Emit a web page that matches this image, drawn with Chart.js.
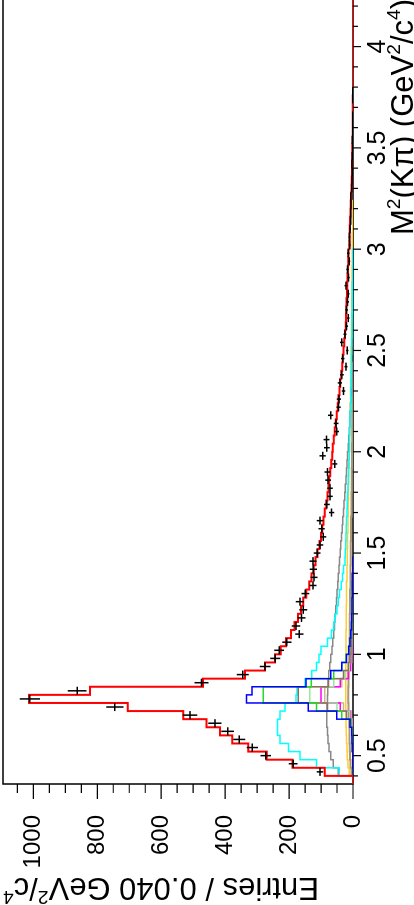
<!DOCTYPE html>
<html>
<head>
<meta charset="utf-8">
<script src="https://cdn.jsdelivr.net/npm/chart.js@4.4.0/dist/chart.umd.min.js"></script>
<style>
  html, body { margin: 0; padding: 0; background: #fff; overflow: hidden; }
  /* chart is drawn landscape, then turned a quarter left to fit the portrait page */
  #wrap { position: absolute; left: 0; top: 0; width: 905px; height: 414px;
          transform-origin: 0 0; transform: translate(0px, 905px) rotate(-90deg); }
</style>
</head>
<body>
<div id="wrap"><canvas id="chart" width="905" height="414"></canvas></div>
<script>
// binning: 0.040 GeV^2/c^4 bins starting at 0.36
const M2_START = 0.36;
const BIN_WIDTH = 0.04;
const X_MIN = 0.36;
const X_MAX = 4.23;
const Y_MAX = 1095;

const xTickLabels = ['0.5', '1', '1.5', '2', '2.5', '3', '3.5', '4'];
const yTickLabels = ['0', '200', '400', '600', '800', '1000'];

// measured entries per bin (first bin 0.36-0.40)
const dataCounts = [
  0, 103, 187, 273, 315, 356, 392, 432, 510, 745,
  1011, 863, 474, 345, 275, 243, 231, 207, 168, 178,
  161, 156, 166, 149, 125, 122, 124, 125, 112, 103,
  93, 98, 103, 67, 82, 72, 72, 78, 80, 57,
  95, 82, 83, 51, 53, 70, 45, 44, 30, 41,
  35, 22, 32, 18, 35, 25, 20, 15, 20, 17,
  15, 22, 14, 17, 12, 15, 10, 11, 9, 7,
  7, 6, 7, 4, 3, 2, 3, 2, 1, 2,
  1, 1, 1, 0, 1, 1
];

// total fit (red)
const fitTotal = [
  0, 88, 189, 270, 328, 378, 416, 458, 531, 705,
  1014, 823, 469, 338, 275, 244, 226, 210, 194, 183,
  172, 163, 156, 146, 137, 130, 123, 117, 111, 105,
  100, 96, 92, 88, 84, 80, 77, 74, 71, 68,
  65, 63, 60, 57, 54, 51, 48, 45, 42, 40,
  37, 34, 32, 30, 27, 25, 23, 22, 21, 20,
  19, 18, 17, 16, 15, 14, 12, 11, 10, 9,
  8, 7, 6, 5, 4, 3, 3, 2, 2, 1,
  1, 1, 1, 0.5, 0.5, 0.3, 0, 0, 0, 0,
  0, 0, 0, 0, 0, 0, 0
];

// fit components
const compCyan = [
  0, 43, 114, 166, 202, 228, 236, 236, 228, 213,
  178, 175, 150, 129, 114, 106, 100, 80, 67, 60,
  56, 50, 46, 42, 37, 33, 30, 25, 24, 23,
  22, 21, 20, 19, 18, 17, 16, 15, 14, 13,
  12, 11, 11, 10, 9, 9, 8, 7, 7, 6,
  6, 5, 5, 4, 4, 3, 3, 3, 2, 2,
  2, 2, 1, 1, 1, 1
];
const compGray = [
  0, 46, 62, 70, 75, 78, 80, 82, 82, 81,
  80, 79, 78, 76, 73, 70, 66, 63, 60, 58,
  56, 54, 52, 50, 48, 46, 44, 42, 40, 38,
  36, 34, 32, 30, 28, 26, 24, 22, 20, 19,
  17, 15, 13, 12, 10, 9, 7, 6, 4, 3,
  2, 1
];
const compBlue = [0, 0, 1, 1, 2, 3, 4, 9, 51, 140, 333, 316, 147, 70, 35, 20, 13, 9, 7, 5, 4, 3, 3, 2, 2, 2, 1, 1];
const compGreen = [0, 0, 1, 1, 2, 2, 4, 8, 35, 114, 281, 281, 131, 60, 35, 22, 14, 10, 7, 5, 4, 3, 3, 2, 2, 1, 1];
const compBrown = [0, 0, 0, 1, 1, 2, 3, 6, 20, 80, 171, 171, 77, 30, 15, 9, 6, 4, 3, 2, 2, 1, 1];
const compPaleGreen = [0, 0, 0, 1, 1, 1, 2, 4, 10, 50, 135, 135, 60, 25, 12, 7, 5, 3, 2, 2, 1, 1];
const compMagenta = [0, 0, 0, 0, 1, 1, 2, 3, 8, 40, 100, 100, 40, 15, 8, 5, 3, 2, 2, 1, 1];
const compTan = [0, 0, 0, 0, 1, 1, 1, 2, 6, 30, 88, 88, 35, 14, 7, 4, 3, 2, 1, 1];
const compOrange = [
  0, 12, 16, 18, 19, 20, 21, 22, 22, 23,
  23, 23, 23, 23, 23, 22, 22, 22, 22, 21,
  21, 21, 20, 20, 20, 19, 19, 18, 18, 17,
  17, 16, 16, 15, 15, 14, 14, 13, 13, 12,
  12, 11, 11, 10, 10, 9, 9, 8, 8, 7,
  7, 6, 6, 6, 5, 5, 5, 4, 4, 4,
  3, 3, 3, 3, 2, 2, 2, 2, 1, 1,
  1, 1
];
const compKhaki = [
  0, 5, 8, 9, 10, 11, 11, 12, 13, 14,
  15, 15, 14, 13, 12, 12, 11, 11, 10, 10,
  10, 9, 9, 9, 8, 8, 8, 7, 7, 7,
  6, 6, 6, 5, 5, 5, 4, 4, 4, 3,
  3, 3, 2, 2, 2, 2, 1, 1, 1, 1
];

// outline of a histogram: step line through the lower bin edges
function histPoints(vals) {
  var pts = [{x: M2_START, y: 0}];
  vals.forEach(function(v, i) {
    pts.push({x: M2_START + i * BIN_WIDTH, y: v});
  });
  pts.push({x: M2_START + vals.length * BIN_WIDTH, y: 0});
  return pts;
}

// data crosses: bin width horizontally, sqrt(N) vertically
function crossPoints(vals) {
  var pts = [];
  vals.forEach(function(c, i) {
    if (c <= 0) return;
    var lo = M2_START + i * BIN_WIDTH;
    var hi = lo + BIN_WIDTH;
    var mid = lo + BIN_WIDTH / 2;
    var e = Math.sqrt(c);
    pts.push({x: lo, y: c}, {x: hi, y: c}, {x: mid, y: null});
    pts.push({x: mid, y: c - e}, {x: mid, y: c + e}, {x: mid, y: null});
  });
  return pts;
}

function histSet(label, vals, color, width) {
  return {
    label: label,
    data: histPoints(vals),
    borderColor: color,
    borderWidth: width,
    stepped: 'before',
    pointRadius: 0,
    fill: false
  };
}

// text with superscripts, laid out left to right and ending at x = 0
function drawRich(ctx, parts, size) {
  var total = 0;
  parts.forEach(function(p) {
    ctx.font = (p[1] ? size * 0.62 : size) + 'px "Liberation Sans"';
    p.w = ctx.measureText(p[0]).width;
    total += p.w;
  });
  var x = -total;
  parts.forEach(function(p) {
    ctx.font = (p[1] ? size * 0.62 : size) + 'px "Liberation Sans"';
    ctx.fillText(p[0], x, p[1] ? -size * 0.42 : 0);
    x += p.w;
  });
}

const frameAndTitles = {
  id: 'frameAndTitles',
  beforeDatasetsDraw(chart) {
    var ctx = chart.ctx, a = chart.chartArea;
    var xs = chart.scales.x, ys = chart.scales.y;
    ctx.save();
    ctx.strokeStyle = '#000';
    ctx.lineWidth = 1.5;
    ctx.beginPath();
    ctx.moveTo(a.right + 2, a.top);
    ctx.lineTo(a.left, a.top);
    ctx.lineTo(a.left, a.bottom);
    ctx.lineTo(a.right + 2, a.bottom);
    ctx.stroke();

    ctx.lineWidth = 1.2;
    ctx.beginPath();
    for (var k = 4; k <= 42; k++) {
      var px = xs.getPixelForValue(k / 10);
      var len = (k % 5 === 0) ? 8 : 5;
      ctx.moveTo(px, a.bottom);
      ctx.lineTo(px, a.bottom + len);
    }
    for (var j = 0; j <= 21; j++) {
      var py = ys.getPixelForValue(j * 50);
      var ylen = (j % 4 === 0) ? 15 : 9;
      ctx.moveTo(a.left - ylen, py);
      ctx.lineTo(a.left, py);
    }
    ctx.stroke();
    ctx.restore();
  },
  afterDraw(chart) {
    var ctx = chart.ctx;
    ctx.save();
    ctx.fillStyle = '#000';
    ctx.textBaseline = 'alphabetic';
    ctx.textAlign = 'left';

    // x title, right aligned under the axis
    ctx.save();
    ctx.translate(906, 413);
    drawRich(ctx, [['M', 0], ['2', 1], ['(K\u03c0) (GeV', 0], ['2', 1], ['/c', 0], ['4', 1], [')', 0]], 31);
    ctx.restore();

    // y title, turned to read upwards, right aligned at the top
    ctx.save();
    ctx.translate(27, 3);
    ctx.rotate(-Math.PI / 2);
    drawRich(ctx, [['Entries / 0.040 GeV', 0], ['2', 1], ['/c', 0], ['4', 1]], 31);
    ctx.restore();

    ctx.restore();
  }
};

new Chart(document.getElementById('chart'), {
  type: 'line',
  data: {
    datasets: [
      {label: 'Data', data: crossPoints(dataCounts), borderColor: '#000', borderWidth: 1.5,
       pointRadius: 0, spanGaps: false, fill: false},
      histSet('Fit', fitTotal, '#ff0000', 2),
      histSet('c1', compBlue, '#0000ff', 1.5),
      histSet('c2', compGreen, '#22dd22', 1.5),
      histSet('c3', compBrown, '#8c6e5a', 1.5),
      histSet('c4', compPaleGreen, '#99e699', 1.5),
      histSet('c5', compMagenta, '#ff00ff', 1.5),
      histSet('c6', compTan, '#d2b48c', 1.5),
      histSet('c7', compCyan, '#00ffff', 1.5),
      histSet('c8', compGray, '#888888', 1.5),
      histSet('c9', compOrange, '#ffcc33', 1.5),
      histSet('c10', compKhaki, '#a89878', 2)
    ]
  },
  options: {
    responsive: false,
    animation: false,
    devicePixelRatio: 1,
    layout: {padding: {top: 3, right: 0, left: 0, bottom: 0}},
    elements: {line: {tension: 0}, point: {radius: 0}},
    plugins: {legend: {display: false}, tooltip: {enabled: false}},
    scales: {
      x: {
        type: 'linear', min: X_MIN, max: X_MAX, bounds: 'data',
        grid: {display: false}, border: {display: false},
        afterBuildTicks: function(s) { s.ticks = xTickLabels.map(function(t) { return {value: parseFloat(t)}; }); },
        afterFit: function(s) { s.height = 61; s.paddingLeft = 0; s.paddingRight = 0; },
        ticks: {autoSkip: false, maxRotation: 0, minRotation: 0, color: '#000', padding: 2,
                font: {family: 'Liberation Sans', size: 25},
                callback: function(v, i) { return xTickLabels[i]; }}
      },
      y: {
        type: 'linear', min: 0, max: Y_MAX, bounds: 'data',
        grid: {display: false}, border: {display: false},
        afterBuildTicks: function(s) { s.ticks = yTickLabels.map(function(t) { return {value: parseFloat(t)}; }); },
        afterFit: function(s) { s.width = 121; s.paddingTop = 0; s.paddingBottom = 0; },
        ticks: {autoSkip: false, color: '#000', padding: 23,
                font: {family: 'Liberation Sans', size: 24},
                callback: function(v, i) { return yTickLabels[i]; }}
      }
    }
  },
  plugins: [frameAndTitles]
});
</script>
</body>
</html>
